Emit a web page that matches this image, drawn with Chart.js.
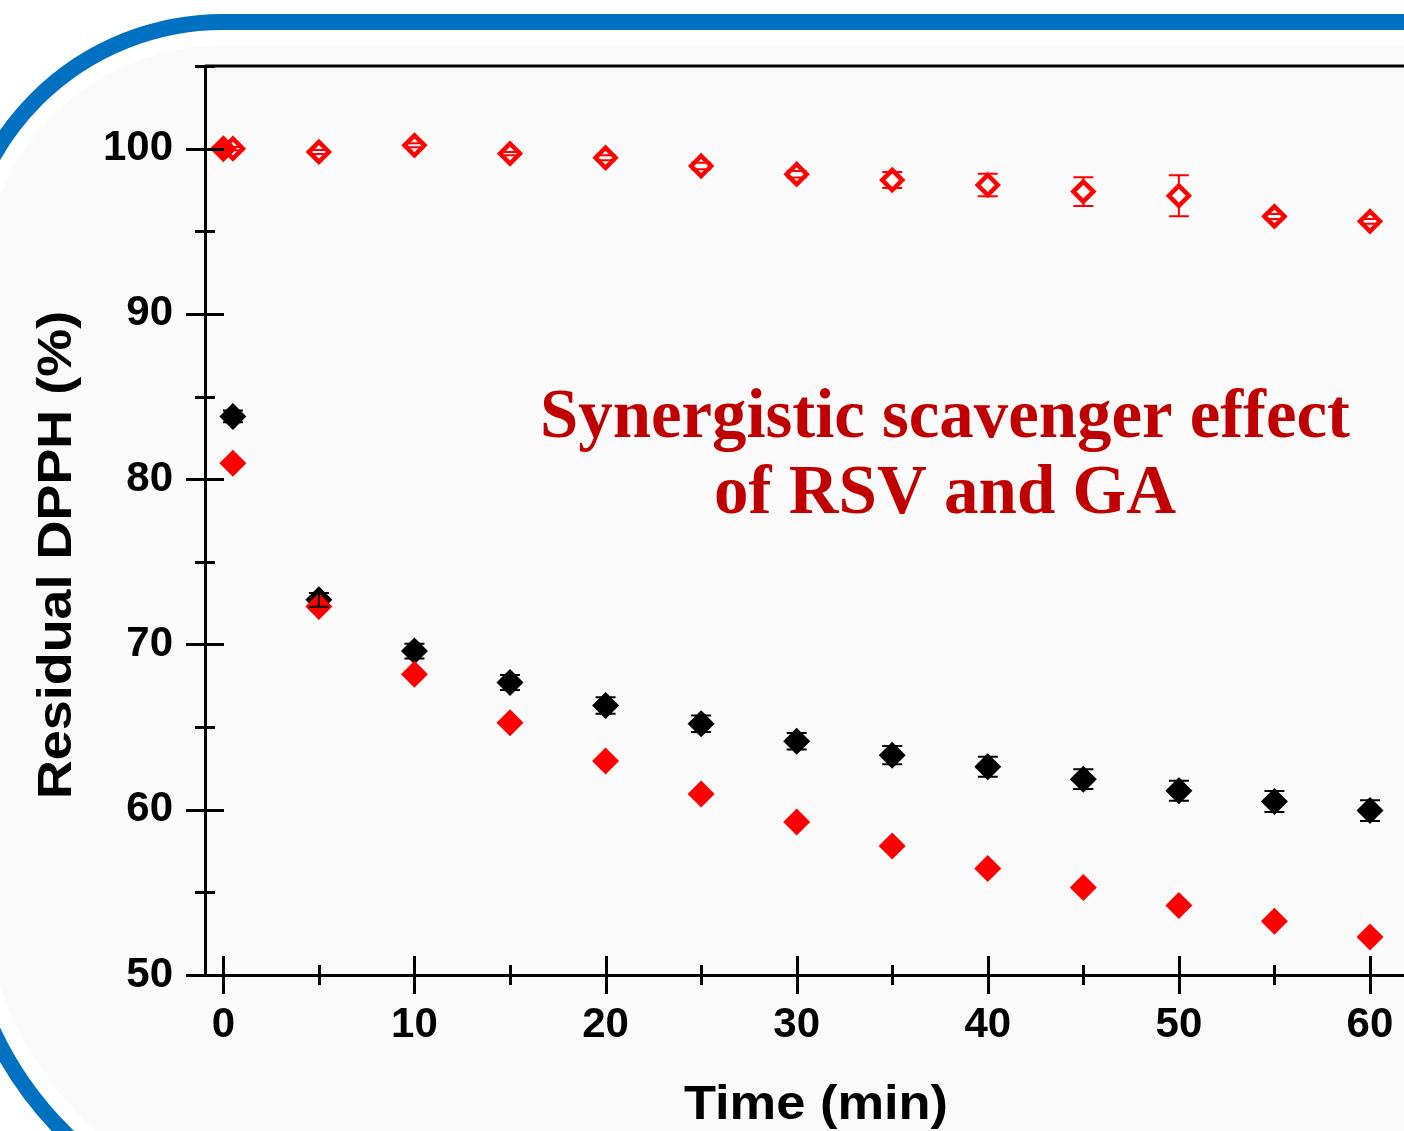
<!DOCTYPE html>
<html>
<head>
<meta charset="utf-8">
<script src="https://cdn.jsdelivr.net/npm/chart.js@4.4.1/dist/chart.umd.min.js"></script>
<style>
	html, body { margin: 0; padding: 0; background: #fff; overflow: hidden; }
	#wrap { position: relative; width: 1404px; height: 1131px; overflow: hidden; }
	#moldura { position: absolute; left: -49px; top: 14px; width: 1600px; height: 1231px; box-sizing: border-box;
		border: 16px solid #0070c0; border-top-left-radius: 272px; border-bottom-left-radius: 366px; }
	#painel { position: absolute; left: 15px; top: 15px; right: 15px; bottom: 15px; background: #fafafa;
		border-top-left-radius: 241px; border-bottom-left-radius: 335px; }
	#myChart { position: absolute; left: 0; top: 0; }
</style>
</head>
<body>
<div id="wrap">
	<div id="moldura"><div id="painel"></div></div>
	<canvas id="myChart" width="1404" height="1131"></canvas>
</div>
<script>
/* ---------------- dados ---------------- */
const tempos = [0.5, 5, 10, 15, 20, 25, 30, 35, 40, 45, 50, 55, 60];
const temposComZero = [0, 0.5, 5, 10, 15, 20, 25, 30, 35, 40, 45, 50, 55, 60];

// losango vermelho aberto
const abertoVermelho = [100.0, 99.8, 100.2, 99.7, 99.45, 98.95, 98.45, 98.1, 97.8, 97.4, 97.15, 95.9, 95.6];
const erroAberto = [0.1, 0.12, 0.12, 0.1, 0.15, 0.2, 0.2, 0.48, 0.68, 0.87, 1.24, 0.15, 0.15];

// losango preto
const preto = [83.8, 72.7, 69.6, 67.7, 66.3, 65.2, 64.15, 63.3, 62.6, 61.85, 61.15, 60.5, 59.95];
const erroPreto = [0.35, 0.42, 0.45, 0.45, 0.5, 0.5, 0.5, 0.55, 0.6, 0.6, 0.6, 0.63, 0.63];

// losango vermelho cheio
const cheioVermelho = [100.0, 80.97, 72.3, 68.2, 65.27, 62.95, 60.95, 59.25, 57.8, 56.45, 55.3, 54.2, 53.25, 52.3];

const tituloX = "Time (min)";
const tituloY = "Residual DPPH (%)";
const anotacao = ["Synergistic scavenger effect", "of RSV and GA"];

const fonteSans = "'Liberation Sans', Arial, sans-serif";
const fonteSerif = "'Liberation Serif', 'Times New Roman', serif";

const pontos = (xs, ys) => xs.map((t, i) => ({ x: t, y: ys[i] }));

/* ---------------- plugin: ticks, barras de erro, textos ---------------- */
const extras = {
	id: "extras",
	afterDatasetsDraw(chart) {
		const { ctx, scales: { x, y } } = chart;
		ctx.save();

		// barras de erro
		chart.data.datasets.forEach((ds, i) => {
			if (!ds.erros) return;
			const meta = chart.getDatasetMeta(i);
			if (meta.hidden) return;
			ctx.strokeStyle = ds.corErro;
			ctx.lineWidth = 2;
			ds.data.forEach((p, k) => {
				const e = ds.erros[k];
				const px = x.getPixelForValue(p.x);
				const py = y.getPixelForValue(p.y);
				const y1 = y.getPixelForValue(p.y + e);
				const y2 = y.getPixelForValue(p.y - e);
				const gap = ds.vazio ? Math.min(ds.pointRadius + 1, py - y1) : 0;
				ctx.beginPath();
				if (py - y1 > gap) { ctx.moveTo(px, y1); ctx.lineTo(px, py - gap); }
				if (y2 - py > gap) { ctx.moveTo(px, py + gap); ctx.lineTo(px, y2); }
				ctx.moveTo(px - 10, y1); ctx.lineTo(px + 10, y1);
				ctx.moveTo(px - 10, y2); ctx.lineTo(px + 10, y2);
				ctx.stroke();
			});
		});
		ctx.restore();
	},
	afterDraw(chart) {
		const { ctx, chartArea: a, scales: { x, y } } = chart;
		ctx.save();
		ctx.strokeStyle = "#000";
		ctx.lineWidth = 3;

		// linha de cima
		ctx.beginPath();
		ctx.moveTo(a.left, a.top);
		ctx.lineTo(a.right, a.top);
		ctx.stroke();

		// ticks cruzando os eixos
		ctx.beginPath();
		for (const t of y.ticks) {
			const py = Math.round(y.getPixelForValue(t.value)) + 0.5;
			const len = t.value % 10 === 0 ? 19 : 10;
			ctx.moveTo(a.left - len, py);
			ctx.lineTo(a.left + len, py);
		}
		for (const t of x.ticks) {
			const px = Math.round(x.getPixelForValue(t.value)) + 0.5;
			const len = t.value % 10 === 0 ? 19 : 10;
			ctx.moveTo(px, a.bottom - len);
			ctx.lineTo(px, a.bottom + len);
		}
		ctx.stroke();

		// titulos dos eixos
		ctx.fillStyle = "#000";
		ctx.font = `bold 49px ${fonteSans}`;
		ctx.textAlign = "center";
		ctx.textBaseline = "alphabetic";
		ctx.save();
		ctx.translate(816, 1119);
		ctx.scale(1.07, 1);
		ctx.fillText(tituloX, 0, 0);
		ctx.restore();

		ctx.save();
		ctx.translate(71, 555);
		ctx.rotate(-Math.PI / 2);
		ctx.scale(1.1, 1);
		ctx.fillText(tituloY, 0, 0);
		ctx.restore();

		// anotacao
		ctx.fillStyle = "#c00000";
		ctx.font = `bold 69px ${fonteSerif}`;
		ctx.fillText(anotacao[0], 945, 437, 810);
		ctx.fillText(anotacao[1], 945, 513, 810);

		ctx.restore();
	},
};

new Chart(document.getElementById("myChart"), {
	type: "scatter",
	data: {
		datasets: [
			{
				label: "cheio",
				data: pontos(temposComZero, cheioVermelho),
				pointStyle: "rectRot",
				pointRadius: 13.5,
				backgroundColor: "#ff0000",
				borderWidth: 0,
				order: 0,
			},
			{
				label: "preto",
				data: pontos(tempos, preto),
				erros: erroPreto,
				corErro: "#000",
				pointStyle: "rectRot",
				pointRadius: 13.5,
				backgroundColor: "#000",
				borderWidth: 0,
				order: 1,
			},
			{
				label: "aberto",
				data: pontos(tempos, abertoVermelho),
				erros: erroAberto,
				corErro: "#ff0000",
				vazio: true,
				pointStyle: "rectRot",
				pointRadius: 10,
				backgroundColor: "rgba(0,0,0,0)",
				borderColor: "#ff0000",
				borderWidth: 4.5,
				order: 2,
			},
		],
	},
	options: {
		responsive: false,
		animation: false,
		events: [],
		layout: { autoPadding: false, padding: { top: 66, left: 0, right: 0, bottom: 0 } },
		plugins: { legend: { display: false }, tooltip: { enabled: false } },
		scales: {
			x: {
				type: "linear",
				position: "bottom",
				min: -0.96,
				max: 61.78,
				grid: { display: false, drawTicks: false },
				border: { display: true, color: "#000", width: 3 },
				ticks: {
					stepSize: 5,
					includeBounds: false,
					autoSkip: false,
					maxRotation: 0,
					padding: 25,
					color: "#000",
					font: { family: fonteSans, size: 42, weight: "bold" },
					callback: (v) => (v % 10 === 0 ? v : ""),
				},
				afterFit: (s) => {
					s.height = 156;
					s.paddingLeft = 0;
					s.paddingRight = 0;
				},
			},
			y: {
				type: "linear",
				position: "left",
				min: 50,
				max: 105,
				grid: { display: false, drawTicks: false },
				border: { display: true, color: "#000", width: 3 },
				ticks: {
					stepSize: 5,
					includeBounds: false,
					autoSkip: false,
					padding: 32,
					color: "#000",
					font: { family: fonteSans, size: 42, weight: "bold" },
					callback: (v) => (v % 10 === 0 ? v : ""),
				},
				afterFit: (s) => {
					s.width = 205;
					s.paddingTop = 0;
					s.paddingBottom = 0;
				},
			},
		},
	},
	plugins: [extras],
});
</script>
</body>
</html>
